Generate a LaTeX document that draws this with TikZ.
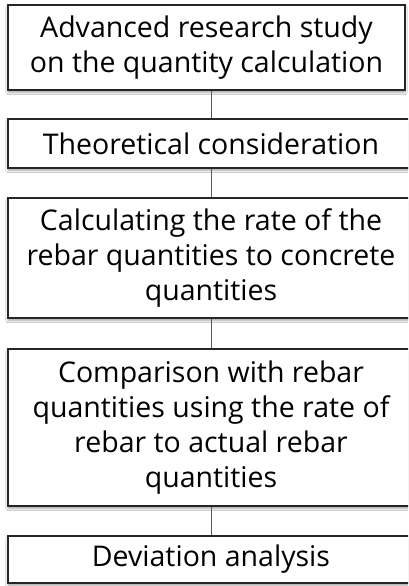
\documentclass[tikz,border=0pt]{standalone}
\usepackage{fontspec}
\setmainfont{Open Sans}
\usetikzlibrary{shadows.blur}

\begin{document}
\begin{tikzpicture}[x=1pt, y=-1pt,
  stagebox/.style={draw=black!85, line width=1.6pt, fill=white, align=center,
    inner sep=0pt, minimum width=406pt,
    font=\fontsize{28.5}{35}\selectfont,
    blur shadow={shadow xshift=0pt, shadow yshift=-2.5pt, shadow blur steps=6, shadow opacity=35}},
  link/.style={draw=black!65, line width=0.9pt}]
\clip (0,0) rectangle (408,586);
\fill[white] (0,0) rectangle (408,586);
% stages
\node[stagebox, minimum width=397pt, minimum height=85pt] (study) at (206.5,47.5)
  {Advanced research study\\on the quantity calculation};
\node[stagebox, minimum height=49pt] (theory) at (211,143.5) {Theoretical consideration};
\node[stagebox, minimum height=120pt] (rate) at (211,258)
  {Calculating the rate of the\\rebar quantities to concrete\\quantities};
\node[stagebox, minimum height=157pt] (compare) at (211,427.5)
  {Comparison with rebar\\quantities using the rate of\\rebar to actual rebar\\quantities};
\node[stagebox, minimum height=47pt] (deviation) at (211,559.5) {Deviation analysis};
% links
\draw[link] (theory.north |- study.south) -- (theory.north);
\draw[link] (theory.south) -- (rate.north);
\draw[link] (rate.south) -- (compare.north);
\draw[link] (compare.south) -- (deviation.north);
\end{tikzpicture}
\end{document}
